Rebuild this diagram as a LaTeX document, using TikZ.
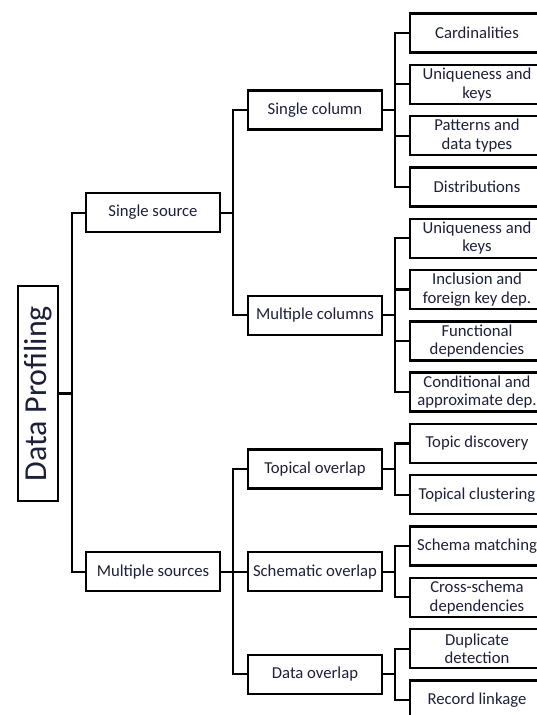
\documentclass[tikz,border=0pt]{standalone}
\usepackage{fontspec}
\setmainfont{Carlito}
\definecolor{txt}{RGB}{28,32,58}
\begin{document}
\begin{tikzpicture}[x=1pt,y=-1pt,
  box/.style={draw=black, line width=2.4pt, minimum width=133.5pt, minimum height=39pt,
    inner sep=0pt, align=center, text=txt,
    font=\fontsize{16.7}{18.5}\selectfont},
  root/.style={draw=black, line width=2.4pt, minimum width=215pt, minimum height=40pt,
    inner sep=0pt, rotate=90, text=txt, font=\fontsize{32}{36}\selectfont},
  link/.style={draw=black, line width=2.2pt}]
\useasboundingbox (0,0) rectangle (537,715);
% root
\node[root] (dp) at (38,393.5) {Data Profiling};
% level 1
\node[box] (ss) at (153,212.6) {Single source};
\node[box] (ms) at (153,571.7) {Multiple sources};
% level 2
\node[box] (sc) at (315,110) {Single column};
\node[box] (mc) at (315,315.2) {Multiple columns};
\node[box] (to) at (315,469) {Topical overlap};
\node[box] (so) at (315,571.7) {Schematic overlap};
\node[box] (do) at (315,674.3) {Data overlap};
% leaves
\node[box] (l1) at (477,33) {Cardinalities};
\node[box] (l2) at (477,84.3) {Uniqueness and\\keys};
\node[box] (l3) at (477,135.6) {Patterns and\\data types};
\node[box] (l4) at (477,186.9) {Distributions};
\node[box] (l5) at (477,238.2) {Uniqueness and\\keys};
\node[box] (l6) at (477,289.5) {Inclusion and\\foreign key dep.};
\node[box] (l7) at (477,340.8) {Functional\\dependencies};
\node[box] (l8) at (477,392.1) {Conditional and\\approximate dep.};
\node[box] (l9) at (477,443.4) {Topic discovery};
\node[box] (l10) at (477,494.7) {Topical clustering};
\node[box] (l11) at (477,546) {Schema matching};
\node[box] (l12) at (477,597.3) {Cross-schema\\dependencies};
\node[box] (l13) at (477,648.6) {Duplicate\\detection};
\node[box] (l14) at (477,699.9) {Record linkage};
% connectors
\foreach \c in {ss,ms} \draw[link] (dp.south) -- ++(13,0) |- (\c.west);
\foreach \c in {sc,mc} \draw[link] (ss.east) -- ++(12,0) |- (\c.west);
\foreach \c in {to,so,do} \draw[link] (ms.east) -- ++(12,0) |- (\c.west);
\foreach \c in {l1,l2,l3,l4} \draw[link] (sc.east) -- ++(12,0) |- (\c.west);
\foreach \c in {l5,l6,l7,l8} \draw[link] (mc.east) -- ++(12,0) |- (\c.west);
\foreach \c in {l9,l10} \draw[link] (to.east) -- ++(12,0) |- (\c.west);
\foreach \c in {l11,l12} \draw[link] (so.east) -- ++(12,0) |- (\c.west);
\foreach \c in {l13,l14} \draw[link] (do.east) -- ++(12,0) |- (\c.west);
\end{tikzpicture}
\end{document}
